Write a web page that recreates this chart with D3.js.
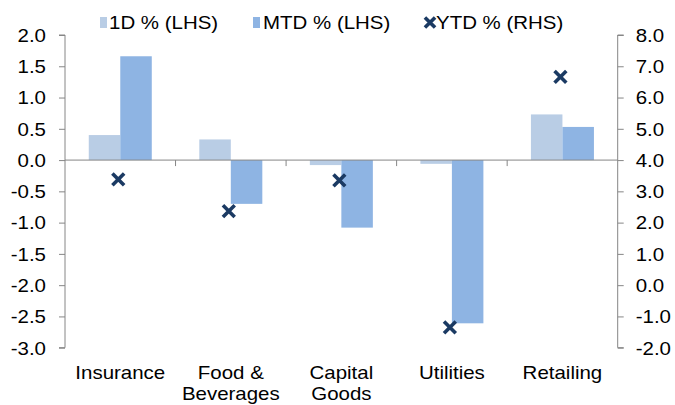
<!DOCTYPE html>
<html><head><meta charset="utf-8">
<script src="https://cdn.jsdelivr.net/npm/d3@7"></script>
<style>
html,body{margin:0;padding:0;background:#fff;}
svg{display:block;font-family:"Liberation Sans",Arial,sans-serif;}
</style></head>
<body>
<svg id="chart" width="675" height="405"></svg>
<script>
const categories = ["Insurance", "Food & Beverages", "Capital Goods", "Utilities", "Retailing"];
const categoryLines = [["Insurance"], ["Food &", "Beverages"], ["Capital", "Goods"], ["Utilities"], ["Retailing"]];
const seriesNames = ["1D % (LHS)", "MTD % (LHS)", "YTD % (RHS)"];
const d1 = [0.40, 0.33, -0.08, -0.06, 0.73];
const mtd = [1.66, -0.70, -1.08, -2.61, 0.53];
const ytd = [3.38, 2.37, 3.35, -1.35, 6.66];
const leftTicks = [2.0, 1.5, 1.0, 0.5, 0.0, -0.5, -1.0, -1.5, -2.0, -2.5, -3.0];
const rightTicks = [8.0, 7.0, 6.0, 5.0, 4.0, 3.0, 2.0, 1.0, 0.0, -1.0, -2.0];

const colors = {d1: "#b9cde5", mtd: "#8eb4e3", ytd: "#1b3a63"};
const axisColor = "#868686";
const fs = 17.5, sx = 1.17;

const svg = d3.select("#chart");
const L = 65, R = 617.7, T = 35, B = 347.7;

const x0 = d3.scaleBand().domain(categories).range([L, R]).padding(0);
const bw = x0.bandwidth();
const x1 = d3.scaleBand().domain(["d1", "mtd"]).range([bw * 0.215, bw * 0.785]).padding(0);
const yL = d3.scaleLinear().domain([-3, 2]).range([B, T]);
const yR = d3.scaleLinear().domain([-2, 8]).range([B, T]);

function stretch(sel) {
  sel.each(function() {
    const t = d3.select(this);
    const x = +t.attr("x") || 0, y = +t.attr("y") || 0;
    t.attr("transform", `translate(${x},${y}) scale(${sx},1)`).attr("x", 0).attr("y", 0);
  });
}

// Bars
const rows = categories.map((c, i) => ({c, d1: d1[i], mtd: mtd[i]}));
const g = svg.append("g");
rows.forEach(r => {
  ["d1", "mtd"].forEach(k => {
    const v = r[k];
    g.append("rect")
      .attr("x", x0(r.c) + x1(k))
      .attr("width", x1.bandwidth())
      .attr("y", yL(Math.max(0, v)))
      .attr("height", Math.abs(yL(v) - yL(0)))
      .attr("fill", colors[k]);
  });
});

// Left axis
const la = svg.append("g").attr("transform", `translate(${L},0)`)
  .call(d3.axisLeft(yL).tickValues(leftTicks).tickSize(6).tickPadding(13).tickFormat(v => v.toFixed(1)));
la.select(".domain").attr("stroke", axisColor).attr("d", `M-6,${T}H0V${B}H-6`);
la.selectAll(".tick line").attr("stroke", axisColor);
la.selectAll(".tick text").attr("fill", "#000").style("font-size", fs + "px").attr("dy", "0.36em").call(stretch);
la.attr("font-family", null);

// Right axis
const ra = svg.append("g").attr("transform", `translate(${R},0)`)
  .call(d3.axisRight(yR).tickValues(rightTicks).tickSize(6).tickPadding(12).tickFormat(v => v.toFixed(1)));
ra.select(".domain").attr("stroke", axisColor).attr("d", `M6,${T}H0V${B}H6`);
ra.selectAll(".tick line").attr("stroke", axisColor);
ra.selectAll(".tick text").attr("fill", "#000").style("font-size", fs + "px").attr("dy", "0.36em").call(stretch);
ra.attr("font-family", null);

// Category axis at zero
const ca = svg.append("g").attr("transform", `translate(0,${yL(0)})`);
ca.append("line").attr("x1", L).attr("x2", R).attr("stroke", axisColor).attr("stroke-width", 1);
categories.forEach((c, i) => {
  if (i > 0) ca.append("line").attr("x1", x0(c)).attr("x2", x0(c)).attr("y1", 0).attr("y2", 6).attr("stroke", axisColor);
});

// Category labels
categories.forEach((c, i) => {
  categoryLines[i].forEach((ln, j) => {
    svg.append("text")
      .attr("x", x0(c) + bw / 2).attr("y", 378.5 + j * 21.5)
      .attr("text-anchor", "middle").style("font-size", fs + "px").attr("fill", "#000")
      .text(ln).call(stretch);
  });
});

// YTD markers
function xMark(sel, cx, cy, s) {
  sel.append("path")
    .attr("d", `M${cx - s},${cy - s}L${cx + s},${cy + s}M${cx - s},${cy + s}L${cx + s},${cy - s}`)
    .attr("stroke", colors.ytd).attr("stroke-width", 3.6).attr("fill", "none").attr("stroke-linecap", "square");
}
categories.forEach((c, i) => xMark(svg, x0(c) + bw / 2 - 2, yR(ytd[i]), 4.6));

// Legend
const lg = svg.append("g");
lg.append("rect").attr("x", 100).attr("y", 17).attr("width", 7).attr("height", 11).attr("fill", colors.d1);
lg.append("text").attr("x", 109).attr("y", 29).style("font-size", fs + "px").text(seriesNames[0]).call(stretch);
lg.append("rect").attr("x", 253).attr("y", 17).attr("width", 7).attr("height", 11).attr("fill", colors.mtd);
lg.append("text").attr("x", 263).attr("y", 29).style("font-size", fs + "px").text(seriesNames[1]).call(stretch);
xMark(lg, 430, 22.5, 3.8);
lg.append("text").attr("x", 436).attr("y", 29).style("font-size", fs + "px").text(seriesNames[2]).call(stretch);
</script>
</body></html>
